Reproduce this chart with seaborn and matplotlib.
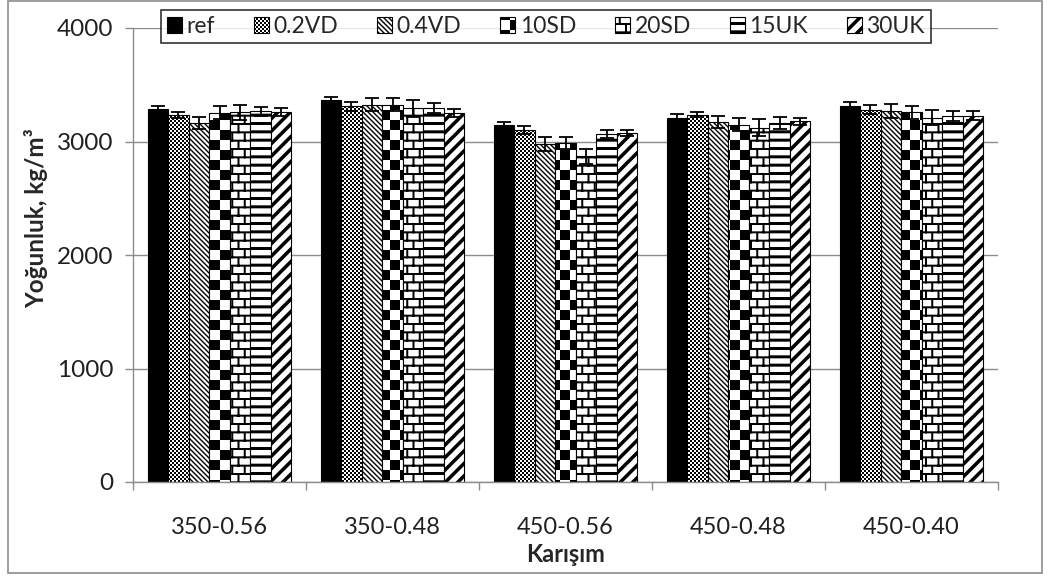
import warnings
import numpy as np
import pandas as pd
import matplotlib
matplotlib.use('Agg')
import matplotlib.pyplot as plt
import matplotlib.hatch as mhatch
from matplotlib.path import Path
from matplotlib.patches import Rectangle
import seaborn as sns

warnings.filterwarnings('ignore')

# Данные
groups = ['350-0.56', '350-0.48', '450-0.56', '450-0.48', '450-0.40']
series = ['ref', '0.2VD', '0.4VD', '10SD', '20SD', '15UK', '30UK']

ref_vals = [3287, 3362, 3143, 3208, 3310]
vd02_vals = [3234, 3310, 3105, 3237, 3281]
vd04_vals = [3164, 3325, 2980, 3170, 3266]
sd10_vals = [3252, 3325, 2988, 3149, 3257]
sd20_vals = [3257, 3295, 2871, 3120, 3208]
uk15_vals = [3266, 3295, 3067, 3164, 3228]
uk30_vals = [3257, 3252, 3076, 3178, 3228]

ref_err = [30, 30, 30, 30, 35]
vd02_err = [30, 40, 35, 25, 40]
vd04_err = [55, 55, 60, 55, 60]
sd10_err = [58, 55, 55, 58, 60]
sd20_err = [65, 75, 65, 75, 67]
uk15_err = [40, 45, 32, 50, 45]
uk30_err = [35, 37, 28, 30, 38]

values = [ref_vals, vd02_vals, vd04_vals, sd10_vals, sd20_vals, uk15_vals, uk30_vals]
errors = [ref_err, vd02_err, vd04_err, sd10_err, sd20_err, uk15_err, uk30_err]

rows = []
for s, vals, errs in zip(series, values, errors):
    for g, v, e in zip(groups, vals, errs):
        rows.append({'Karışım': g, 'seri': s, 'değer': v, 'hata': e})
df = pd.DataFrame(rows)


# Excel-подобные штриховки (заполненные полигоны в единичной плитке)
def checker(n):
    c = 1.0 / n
    return [np.array([[i*c, j*c], [(i+1)*c, j*c], [(i+1)*c, (j+1)*c], [i*c, (j+1)*c]])
            for i in range(n) for j in range(n) if (i + j) % 2 == 0]


def hstripes(n, t):
    c = 1.0 / n
    return [np.array([[0, k*c], [1, k*c], [1, k*c + t], [0, k*c + t]]) for k in range(n)]


def bricks(nrows, per_row, t):
    h = 1.0 / nrows
    w = 1.0 / per_row
    polys = hstripes(nrows, t)
    for r in range(nrows):
        shift = 0.5 * w * (r % 2)
        for k in range(-1, per_row + 1):
            x = k * w + shift
            polys.append(np.array([[x, r*h], [x + t, r*h], [x + t, (r+1)*h], [x, (r+1)*h]]))
    return polys


def diag(n, t, forward=True):
    c = 1.0 / n
    polys = []
    for k in range(-n - 1, n + 1):
        x0 = k * c
        if forward:
            polys.append(np.array([[x0, 0], [x0 + t, 0], [x0 + t + 1, 1], [x0 + 1, 1]]))
        else:
            polys.append(np.array([[x0, 1], [x0 + t, 1], [x0 + t + 1, 0], [x0 + 1, 0]]))
    return polys


PATTERNS = {
    'c': checker(50),
    'C': checker(10),
    'b': bricks(12, 8, 0.02),
    'h': hstripes(12, 0.03),
    'd': diag(20, 0.02, forward=False),
    'D': diag(8, 0.05, forward=True),
}


class PolyHatch(mhatch.HatchPatternBase):
    def __init__(self, hatch, density):
        self.items = []
        for ch, polys in PATTERNS.items():
            if ch in hatch:
                self.items.extend(polys)
        self.num_vertices = sum(len(p) + 1 for p in self.items)

    def set_vertices_and_codes(self, vertices, codes):
        i = 0
        for p in self.items:
            n = len(p)
            vertices[i:i + n] = p
            vertices[i + n] = p[0]
            codes[i] = Path.MOVETO
            codes[i + 1:i + n] = Path.LINETO
            codes[i + n] = Path.CLOSEPOLY
            i += n + 1


mhatch._hatch_types.append(PolyHatch)

hatches = ['', 'c', 'd', 'C', 'b', 'h', 'D']
colors = {s: 'white' for s in series}
colors['ref'] = 'black'

sns.set_theme(style='white')
plt.rcParams['font.family'] = ['Lato', 'DejaVu Sans']
plt.rcParams['hatch.linewidth'] = 0.0
plt.rcParams['hatch.color'] = 'black'

fig = plt.figure(figsize=(10.48, 5.79), dpi=100)
ax = fig.add_axes([133 / 1048, 1 - 482 / 579, (998 - 133) / 1048, (482 - 28) / 579])

sns.barplot(data=df, x='Karışım', y='değer', hue='seri', hue_order=series, order=groups,
            palette=colors, edgecolor='black', linewidth=0.8, width=0.83,
            errorbar=None, legend=False, ax=ax, zorder=2)

for container, h, errs, vals in zip(ax.containers, hatches, errors, values):
    xs = []
    for bar in container:
        bar.set_hatch(h)
        xs.append(bar.get_x() + bar.get_width() / 2)
    ax.errorbar(xs, vals, yerr=errs, fmt='none', ecolor='black', elinewidth=1.3,
                capsize=5, capthick=1.3, zorder=3)

ax.set_ylim(0, 4000)
ax.set_xlim(-0.5, 4.5)
ax.set_yticks([0, 1000, 2000, 3000, 4000])
ax.yaxis.grid(True, color='#8c8c8c', linewidth=1)
ax.set_axisbelow(True)

ax.set_xticks(np.arange(-0.5, 5, 1), minor=True)
ax.tick_params(axis='x', which='major', length=0, labelsize=17, pad=25, colors='#202020')
ax.tick_params(axis='x', which='minor', length=6, width=1, color='#8c8c8c', direction='out', bottom=True)
ax.tick_params(axis='y', length=6, width=1, color='#8c8c8c', direction='out', left=True,
               labelsize=17.5, pad=8, labelcolor='#202020')

for side in ['top', 'right']:
    ax.spines[side].set_visible(False)
for side in ['left', 'bottom']:
    ax.spines[side].set_color('#8c8c8c')
    ax.spines[side].set_linewidth(1)

ax.set_xlabel('Karışım', fontsize=17, fontweight='bold')
ax.set_ylabel('Yoğunluk, kg/m³', fontsize=17.5, fontweight='bold')
ax.xaxis.set_label_coords(0.5, (482 - 543) / 454)
ax.yaxis.set_label_coords((48 - 133) / 865, (482 - 218) / 454)

leg = fig.legend(ax.containers, series, loc='center', bbox_to_anchor=(546 / 1048, 1 - 26.5 / 579),
                 ncol=7, frameon=True, fancybox=False, fontsize=16.5, handlelength=0.65,
                 handleheight=0.65, handletextpad=0.2, columnspacing=1.7, borderpad=0.25,
                 borderaxespad=0)
leg.get_frame().set_edgecolor('black')
leg.get_frame().set_linewidth(1.2)

# Рамка вокруг всей диаграммы
fig.patches.append(Rectangle((8 / 1048, 1 - 573 / 579), (1042 - 8) / 1048, (573 - 1) / 579,
                             transform=fig.transFigure, fill=False, edgecolor='#8c8c8c', linewidth=1.2))

plt.savefig('out.png', dpi=100)
plt.close()
